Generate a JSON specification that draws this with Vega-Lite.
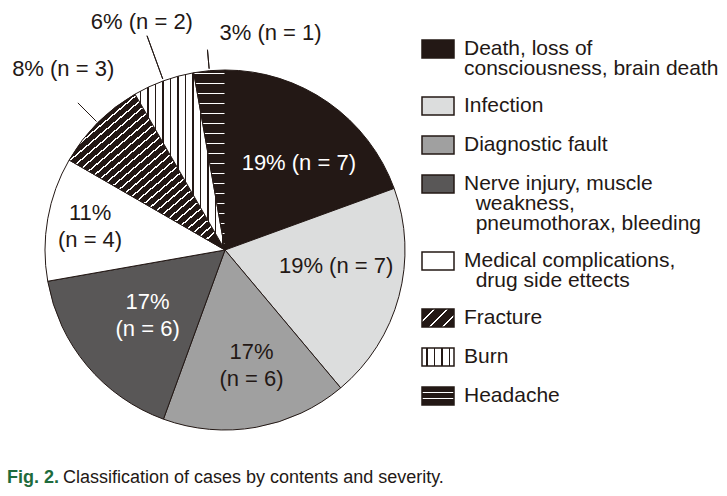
{
  "$schema": "https://vega.github.io/schema/vega-lite/v6.json",
  "background": "white",
  "padding": 0,
  "config": {"view": {"stroke": null}, "font": "Liberation Sans", "concat": {"spacing": 0}},
  "title": {"text": "Fig. 2.", "orient": "bottom", "anchor": "start", "frame": "group", "font": "Liberation Sans", "fontSize": 18, "fontWeight": "bold", "color": "#1e6b3c", "baseline": "alphabetic", "offset": -17, "dx": 7},
  "datasets": {
    "cases": [
      {"cat": "Death, loss of|consciousness, brain death", "n": 7, "rank": 1, "label": "19% (n = 7)"},
      {"cat": "Infection", "n": 7, "rank": 2, "label": "19% (n = 7)"},
      {"cat": "Diagnostic fault", "n": 6, "rank": 3, "label": "17%|(n = 6)"},
      {"cat": "Nerve injury, muscle|\u200b\u00a0\u00a0weakness,|\u200b\u00a0\u00a0pneumothorax, bleeding", "n": 6, "rank": 4, "label": "17%|(n = 6)"},
      {"cat": "Medical complications,|\u200b\u00a0\u00a0drug side ettects", "n": 4, "rank": 5, "label": "11%|(n = 4)"},
      {"cat": "Fracture", "n": 3, "rank": 6, "label": "8% (n = 3)"},
      {"cat": "Burn", "n": 2, "rank": 7, "label": "6% (n = 2)"},
      {"cat": "Headache", "n": 1, "rank": 8, "label": "3% (n = 1)"}
    ]
  },
  "vconcat": [
    {
      "width": 450,
      "height": 500,
      "data": {"name": "cases"},
      "title": {"text": "Classification of cases by contents and severity.", "orient": "bottom", "anchor": "start", "frame": "group", "font": "Liberation Sans", "fontSize": 18, "fontWeight": "normal", "color": "#231815", "baseline": "alphabetic", "offset": -17, "dx": 63},
      "encoding": {
        "theta": {"field": "n", "type": "quantitative", "stack": true},
        "order": {"field": "rank", "type": "quantitative"},
        "detail": {"field": "cat", "type": "nominal"}
      },
      "layer": [
        {
          "mark": {"type": "arc", "radius": 180, "stroke": "#231815", "strokeWidth": 1},
          "encoding": {
            "fill": {
              "field": "cat", "type": "nominal", "legend": null,
              "scale": {
                "domain": ["Death, loss of|consciousness, brain death", "Infection", "Diagnostic fault", "Nerve injury, muscle|\u200b\u00a0\u00a0weakness,|\u200b\u00a0\u00a0pneumothorax, bleeding", "Medical complications,|\u200b\u00a0\u00a0drug side ettects", "Fracture", "Burn", "Headache"],
                "range": [
                  "#231815", "#dcdddd", "#a0a0a0", "#595757", "#ffffff",
                  {"expr": "{gradient:'linear',x1:0,y1:0,x2:0.85,y2:1,stops:[{offset:0,color:'#231815'},{offset:0.015,color:'#231815'},{offset:0.015,color:'#fff'},{offset:0.022,color:'#fff'},{offset:0.022,color:'#231815'},{offset:0.048,color:'#231815'},{offset:0.048,color:'#fff'},{offset:0.055,color:'#fff'},{offset:0.055,color:'#231815'},{offset:0.081,color:'#231815'},{offset:0.081,color:'#fff'},{offset:0.088,color:'#fff'},{offset:0.088,color:'#231815'},{offset:0.114,color:'#231815'},{offset:0.114,color:'#fff'},{offset:0.121,color:'#fff'},{offset:0.121,color:'#231815'},{offset:0.147,color:'#231815'},{offset:0.147,color:'#fff'},{offset:0.154,color:'#fff'},{offset:0.154,color:'#231815'},{offset:0.18,color:'#231815'},{offset:0.18,color:'#fff'},{offset:0.187,color:'#fff'},{offset:0.187,color:'#231815'},{offset:0.213,color:'#231815'},{offset:0.213,color:'#fff'},{offset:0.22,color:'#fff'},{offset:0.22,color:'#231815'},{offset:0.246,color:'#231815'},{offset:0.246,color:'#fff'},{offset:0.253,color:'#fff'},{offset:0.253,color:'#231815'},{offset:0.279,color:'#231815'},{offset:0.279,color:'#fff'},{offset:0.286,color:'#fff'},{offset:0.286,color:'#231815'},{offset:0.312,color:'#231815'},{offset:0.312,color:'#fff'},{offset:0.319,color:'#fff'},{offset:0.319,color:'#231815'},{offset:0.345,color:'#231815'},{offset:0.345,color:'#fff'},{offset:0.352,color:'#fff'},{offset:0.352,color:'#231815'},{offset:0.378,color:'#231815'},{offset:0.378,color:'#fff'},{offset:0.385,color:'#fff'},{offset:0.385,color:'#231815'},{offset:0.411,color:'#231815'},{offset:0.411,color:'#fff'},{offset:0.418,color:'#fff'},{offset:0.418,color:'#231815'},{offset:0.444,color:'#231815'},{offset:0.444,color:'#fff'},{offset:0.451,color:'#fff'},{offset:0.451,color:'#231815'},{offset:0.477,color:'#231815'},{offset:0.477,color:'#fff'},{offset:0.484,color:'#fff'},{offset:0.484,color:'#231815'},{offset:0.51,color:'#231815'},{offset:0.51,color:'#fff'},{offset:0.517,color:'#fff'},{offset:0.517,color:'#231815'},{offset:0.543,color:'#231815'},{offset:0.543,color:'#fff'},{offset:0.55,color:'#fff'},{offset:0.55,color:'#231815'},{offset:0.576,color:'#231815'},{offset:0.576,color:'#fff'},{offset:0.583,color:'#fff'},{offset:0.583,color:'#231815'},{offset:0.609,color:'#231815'},{offset:0.609,color:'#fff'},{offset:0.616,color:'#fff'},{offset:0.616,color:'#231815'},{offset:0.642,color:'#231815'},{offset:0.642,color:'#fff'},{offset:0.649,color:'#fff'},{offset:0.649,color:'#231815'},{offset:0.675,color:'#231815'},{offset:0.675,color:'#fff'},{offset:0.682,color:'#fff'},{offset:0.682,color:'#231815'},{offset:0.708,color:'#231815'},{offset:0.708,color:'#fff'},{offset:0.715,color:'#fff'},{offset:0.715,color:'#231815'},{offset:0.741,color:'#231815'},{offset:0.741,color:'#fff'},{offset:0.748,color:'#fff'},{offset:0.748,color:'#231815'},{offset:0.774,color:'#231815'},{offset:0.774,color:'#fff'},{offset:0.781,color:'#fff'},{offset:0.781,color:'#231815'},{offset:0.807,color:'#231815'},{offset:0.807,color:'#fff'},{offset:0.814,color:'#fff'},{offset:0.814,color:'#231815'},{offset:0.84,color:'#231815'},{offset:0.84,color:'#fff'},{offset:0.847,color:'#fff'},{offset:0.847,color:'#231815'},{offset:0.873,color:'#231815'},{offset:0.873,color:'#fff'},{offset:0.88,color:'#fff'},{offset:0.88,color:'#231815'},{offset:0.906,color:'#231815'},{offset:0.906,color:'#fff'},{offset:0.913,color:'#fff'},{offset:0.913,color:'#231815'},{offset:0.939,color:'#231815'},{offset:0.939,color:'#fff'},{offset:0.946,color:'#fff'},{offset:0.946,color:'#231815'},{offset:0.972,color:'#231815'},{offset:0.972,color:'#fff'},{offset:0.979,color:'#fff'},{offset:0.979,color:'#231815'},{offset:1,color:'#231815'}]}"},
                  {"expr": "{gradient:'linear',x1:0,y1:0,x2:1,y2:0,stops:[{offset:0,color:'#fff'},{offset:0.055,color:'#fff'},{offset:0.055,color:'#231815'},{offset:0.071,color:'#231815'},{offset:0.071,color:'#fff'},{offset:0.138,color:'#fff'},{offset:0.138,color:'#231815'},{offset:0.154,color:'#231815'},{offset:0.154,color:'#fff'},{offset:0.222,color:'#fff'},{offset:0.222,color:'#231815'},{offset:0.238,color:'#231815'},{offset:0.238,color:'#fff'},{offset:0.305,color:'#fff'},{offset:0.305,color:'#231815'},{offset:0.321,color:'#231815'},{offset:0.321,color:'#fff'},{offset:0.388,color:'#fff'},{offset:0.388,color:'#231815'},{offset:0.404,color:'#231815'},{offset:0.404,color:'#fff'},{offset:0.472,color:'#fff'},{offset:0.472,color:'#231815'},{offset:0.488,color:'#231815'},{offset:0.488,color:'#fff'},{offset:0.555,color:'#fff'},{offset:0.555,color:'#231815'},{offset:0.571,color:'#231815'},{offset:0.571,color:'#fff'},{offset:0.638,color:'#fff'},{offset:0.638,color:'#231815'},{offset:0.654,color:'#231815'},{offset:0.654,color:'#fff'},{offset:0.721,color:'#fff'},{offset:0.721,color:'#231815'},{offset:0.737,color:'#231815'},{offset:0.737,color:'#fff'},{offset:0.805,color:'#fff'},{offset:0.805,color:'#231815'},{offset:0.821,color:'#231815'},{offset:0.821,color:'#fff'},{offset:0.888,color:'#fff'},{offset:0.888,color:'#231815'},{offset:0.904,color:'#231815'},{offset:0.904,color:'#fff'},{offset:0.971,color:'#fff'},{offset:0.971,color:'#231815'},{offset:0.987,color:'#231815'},{offset:0.987,color:'#fff'},{offset:1,color:'#fff'}]}"},
                  {"expr": "{gradient:'linear',x1:0,y1:0,x2:0,y2:1,stops:[{offset:0,color:'#231815'},{offset:0.015,color:'#231815'},{offset:0.015,color:'#fff'},{offset:0.022,color:'#fff'},{offset:0.022,color:'#231815'},{offset:0.071,color:'#231815'},{offset:0.071,color:'#fff'},{offset:0.078,color:'#fff'},{offset:0.078,color:'#231815'},{offset:0.126,color:'#231815'},{offset:0.126,color:'#fff'},{offset:0.133,color:'#fff'},{offset:0.133,color:'#231815'},{offset:0.182,color:'#231815'},{offset:0.182,color:'#fff'},{offset:0.189,color:'#fff'},{offset:0.189,color:'#231815'},{offset:0.237,color:'#231815'},{offset:0.237,color:'#fff'},{offset:0.244,color:'#fff'},{offset:0.244,color:'#231815'},{offset:0.293,color:'#231815'},{offset:0.293,color:'#fff'},{offset:0.3,color:'#fff'},{offset:0.3,color:'#231815'},{offset:0.349,color:'#231815'},{offset:0.349,color:'#fff'},{offset:0.356,color:'#fff'},{offset:0.356,color:'#231815'},{offset:0.404,color:'#231815'},{offset:0.404,color:'#fff'},{offset:0.411,color:'#fff'},{offset:0.411,color:'#231815'},{offset:0.46,color:'#231815'},{offset:0.46,color:'#fff'},{offset:0.467,color:'#fff'},{offset:0.467,color:'#231815'},{offset:0.515,color:'#231815'},{offset:0.515,color:'#fff'},{offset:0.522,color:'#fff'},{offset:0.522,color:'#231815'},{offset:0.571,color:'#231815'},{offset:0.571,color:'#fff'},{offset:0.578,color:'#fff'},{offset:0.578,color:'#231815'},{offset:0.627,color:'#231815'},{offset:0.627,color:'#fff'},{offset:0.634,color:'#fff'},{offset:0.634,color:'#231815'},{offset:0.682,color:'#231815'},{offset:0.682,color:'#fff'},{offset:0.689,color:'#fff'},{offset:0.689,color:'#231815'},{offset:0.738,color:'#231815'},{offset:0.738,color:'#fff'},{offset:0.745,color:'#fff'},{offset:0.745,color:'#231815'},{offset:0.793,color:'#231815'},{offset:0.793,color:'#fff'},{offset:0.8,color:'#fff'},{offset:0.8,color:'#231815'},{offset:0.849,color:'#231815'},{offset:0.849,color:'#fff'},{offset:0.856,color:'#fff'},{offset:0.856,color:'#231815'},{offset:0.905,color:'#231815'},{offset:0.905,color:'#fff'},{offset:0.912,color:'#fff'},{offset:0.912,color:'#231815'},{offset:0.96,color:'#231815'},{offset:0.96,color:'#fff'},{offset:0.967,color:'#fff'},{offset:0.967,color:'#231815'},{offset:1,color:'#231815'}]}"}
                ]
              }
            }
          }
        },
        {
          "mark": {"type": "arc", "radius": 0, "radius2": 0},
          "encoding": {
            "fill": {
              "field": "cat", "type": "nominal",
              "scale": {
                "domain": ["Death, loss of|consciousness, brain death", "Infection", "Diagnostic fault", "Nerve injury, muscle|\u200b\u00a0\u00a0weakness,|\u200b\u00a0\u00a0pneumothorax, bleeding", "Medical complications,|\u200b\u00a0\u00a0drug side ettects", "Fracture", "Burn", "Headache"],
                "range": [
                  "#231815", "#dcdddd", "#a0a0a0", "#595757", "#ffffff",
                  {"expr": "{gradient:'linear',x1:0,y1:0,x2:1,y2:0.5625,stops:[{offset:0,color:'#231815'},{offset:0.28,color:'#231815'},{offset:0.28,color:'#fff'},{offset:0.33,color:'#fff'},{offset:0.33,color:'#231815'},{offset:0.58,color:'#231815'},{offset:0.58,color:'#fff'},{offset:0.63,color:'#fff'},{offset:0.63,color:'#231815'},{offset:0.88,color:'#231815'},{offset:0.88,color:'#fff'},{offset:0.93,color:'#fff'},{offset:0.93,color:'#231815'},{offset:1,color:'#231815'}]}"},
                  {"expr": "{gradient:'linear',x1:0,y1:0,x2:1,y2:0,stops:[{offset:0,color:'#fff'},{offset:0.13,color:'#fff'},{offset:0.13,color:'#231815'},{offset:0.18,color:'#231815'},{offset:0.18,color:'#fff'},{offset:0.37,color:'#fff'},{offset:0.37,color:'#231815'},{offset:0.42,color:'#231815'},{offset:0.42,color:'#fff'},{offset:0.6,color:'#fff'},{offset:0.6,color:'#231815'},{offset:0.65,color:'#231815'},{offset:0.65,color:'#fff'},{offset:0.83,color:'#fff'},{offset:0.83,color:'#231815'},{offset:0.88,color:'#231815'},{offset:0.88,color:'#fff'},{offset:1,color:'#fff'}]}"},
                  {"expr": "{gradient:'linear',x1:0,y1:0,x2:0,y2:1,stops:[{offset:0,color:'#231815'},{offset:0.27,color:'#231815'},{offset:0.27,color:'#fff'},{offset:0.33,color:'#fff'},{offset:0.33,color:'#231815'},{offset:0.63,color:'#231815'},{offset:0.63,color:'#fff'},{offset:0.69,color:'#fff'},{offset:0.69,color:'#231815'},{offset:1,color:'#231815'}]}"}
                ]
              },
              "legend": {
                "title": null,
                "orient": "none",
                "legendX": 427,
                "legendY": 38,
                "padding": 0,
                "symbolType": "M-1.6,-0.9H1.6V0.9H-1.6Z",
                "symbolSize": 400,
                "symbolStrokeColor": "#231815",
                "symbolStrokeWidth": 1.5,
                "labelFont": "Liberation Sans",
                "labelFontSize": 21,
                "labelColor": "#231815",
                "labelLimit": 400,
                "labelOffset": 15,
                "rowPadding": 15,
                "labelExpr": "split(datum.label, '|')",
                "encode": {"labels": {"update": {"lineHeight": {"value": 20}}}}
              }
            }
          }
        },
        {
          "mark": {"type": "arc", "radius": 208, "radius2": 182, "padAngle": 3, "stroke": "#231815", "strokeWidth": 1, "fill": "transparent", "clip": true},
          "encoding": {"strokeOpacity": {"condition": {"test": "datum.rank == 6", "value": 1}, "value": 0}}
        },
        {
          "mark": {"type": "arc", "radius": 228, "radius2": 182, "padAngle": 3, "stroke": "#231815", "strokeWidth": 1, "fill": "transparent", "clip": true},
          "encoding": {"strokeOpacity": {"condition": {"test": "datum.rank == 7", "value": 1}, "value": 0}}
        },
        {
          "mark": {"type": "arc", "radius": 201, "radius2": 182, "padAngle": 3, "stroke": "#231815", "strokeWidth": 1, "fill": "transparent", "clip": true},
          "encoding": {"strokeOpacity": {"condition": {"test": "datum.rank == 8", "value": 1}, "value": 0}}
        },
        {
          "mark": {"type": "text", "radius": 113, "dx": 9, "dy": 6, "fontSize": 22, "font": "Liberation Sans", "fill": "white", "clip": true},
          "encoding": {
            "text": {"field": "label"},
            "opacity": {"condition": {"test": "datum.rank == 1", "value": 1}, "value": 0}
          }
        },
        {
          "mark": {"type": "text", "radius": 113, "dx": 2, "dy": -13, "fontSize": 22, "font": "Liberation Sans", "fill": "#231815", "clip": true},
          "encoding": {
            "text": {"field": "label"},
            "opacity": {"condition": {"test": "datum.rank == 2", "value": 1}, "value": 0}
          }
        },
        {
          "mark": {"type": "text", "radius": 118, "dx": 6, "dy": -14, "fontSize": 22, "lineBreak": "|", "lineHeight": 27, "font": "Liberation Sans", "fill": "#231815", "clip": true},
          "encoding": {
            "text": {"field": "label"},
            "opacity": {"condition": {"test": "datum.rank == 3", "value": 1}, "value": 0}
          }
        },
        {
          "mark": {"type": "text", "radius": 101, "dy": -13, "fontSize": 22, "lineBreak": "|", "lineHeight": 27, "font": "Liberation Sans", "fill": "white", "clip": true},
          "encoding": {
            "text": {"field": "label"},
            "opacity": {"condition": {"test": "datum.rank == 4", "value": 1}, "value": 0}
          }
        },
        {
          "mark": {"type": "text", "radius": 137, "dy": -13, "fontSize": 22, "lineBreak": "|", "lineHeight": 27, "font": "Liberation Sans", "fill": "#231815", "clip": true},
          "encoding": {
            "text": {"field": "label"},
            "opacity": {"condition": {"test": "datum.rank == 5", "value": 1}, "value": 0}
          }
        },
        {
          "mark": {"type": "text", "radius": 243, "dx": 10, "dy": -9, "fontSize": 22, "font": "Liberation Sans", "fill": "#231815", "clip": true},
          "encoding": {
            "text": {"field": "label"},
            "opacity": {"condition": {"test": "datum.rank == 6", "value": 1}, "value": 0}
          }
        },
        {
          "mark": {"type": "text", "radius": 243, "fontSize": 22, "font": "Liberation Sans", "fill": "#231815", "clip": true},
          "encoding": {
            "text": {"field": "label"},
            "opacity": {"condition": {"test": "datum.rank == 7", "value": 1}, "value": 0}
          }
        },
        {
          "mark": {"type": "text", "radius": 235, "dx": 66, "dy": 17, "fontSize": 22, "font": "Liberation Sans", "fill": "#231815", "clip": true},
          "encoding": {
            "text": {"field": "label"},
            "opacity": {"condition": {"test": "datum.rank == 8", "value": 1}, "value": 0}
          }
        }
      ],
      "resolve": {"scale": {"fill": "independent"}}
    }
  ]
}
